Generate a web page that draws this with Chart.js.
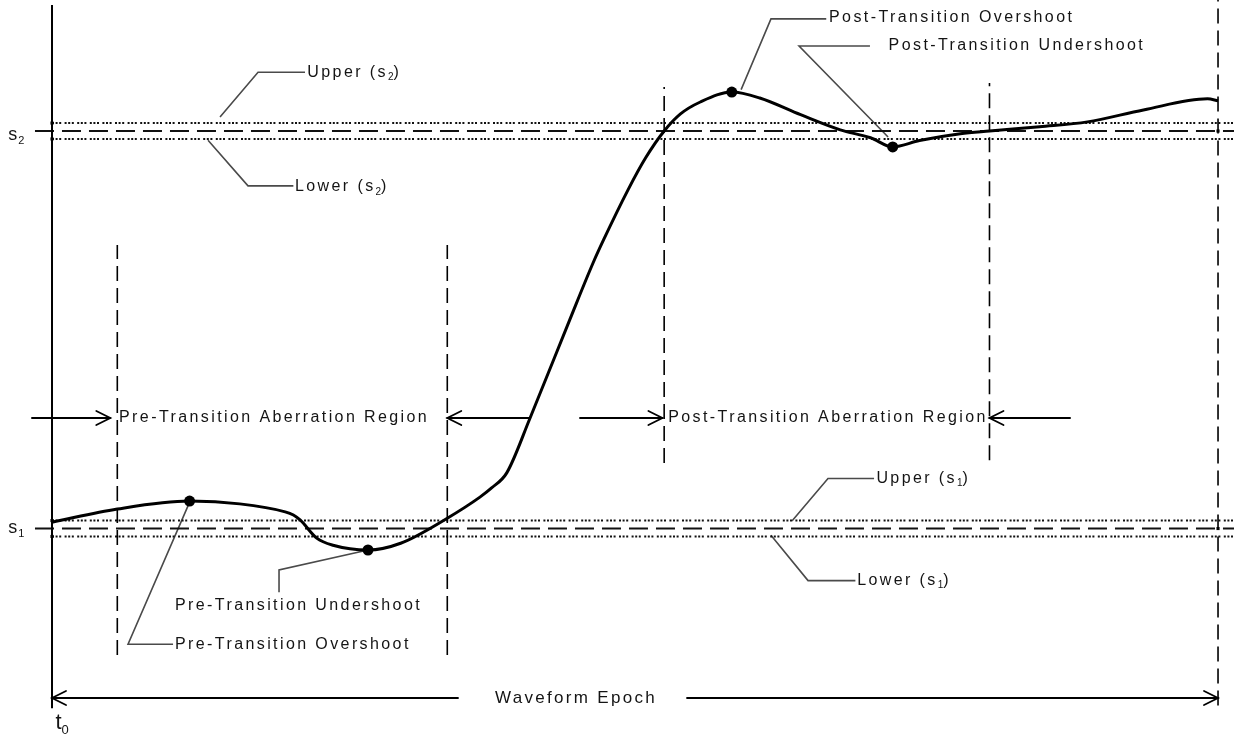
<!DOCTYPE html>
<html>
<head>
<meta charset="utf-8">
<script src="https://cdn.jsdelivr.net/npm/chart.js@4.4.1/dist/chart.umd.min.js"></script>
<style>
  html, body { margin: 0; padding: 0; background: #fff; }
  #wrap { width: 1234px; height: 740px; position: relative; }
</style>
</head>
<body>
<div id="wrap"><canvas id="c"></canvas></div>
<script>
// Waveform samples: time in epoch units (t0 = 0, epoch end = 100),
// amplitude normalised so that state s1 = 0 and state s2 = 1.
const waveTime = [0, 5.6, 11.8, 16.1, 20.0, 20.7, 21.3, 22.7, 24.1, 27.1, 29.9, 33.9,
  36.7, 37.7, 39.0, 41.0, 44.4, 46.4, 47.3, 49.4, 50.9, 52.5, 53.9, 55.6, 58.3,
  60.7, 64.2, 67.6, 70.2, 72.1, 74.4, 77.9, 80.4, 84.7, 88.8, 93.6, 99.1, 100];
const waveLevel = [0.016, 0.049, 0.069, 0.062, 0.042, 0.034, 0.021, -0.024, -0.042, -0.054, -0.037, 0.026,
  0.079, 0.102, 0.140, 0.278, 0.525, 0.668, 0.726, 0.852, 0.932, 1.000, 1.043, 1.073, 1.098,
  1.083, 1.041, 1.003, 0.983, 0.960, 0.976, 0.993, 1.000, 1.011, 1.023, 1.053, 1.081, 1.076];

// Marked extrema of the waveform
const extremaTime = [11.8, 27.1, 58.3, 72.1];
const extremaLevel = [0.069, -0.054, 1.098, 0.960];

// State levels and their tolerance band
const stateLevels = [0, 1];
const stateNames = ['s_1', 's_2'];
const tolerance = 0.02;

// Aberration regions and waveform epoch (start, end)
const preRegion = [5.6, 33.9];
const postRegion = [52.5, 80.4];
const epoch = [0, 100];

// ---- view window and annotation placement (data units) ----
const VIEW = { xMin: -4.46, xMax: 101.37, yMin: -0.532, yMax: 1.3296 };
const stateTickStart = -1.46;
const regionArrowLevel = 0.278;
const epochArrowLevel = -0.4264;

const verticals = [
  { t: epoch[0], from: -0.452, to: 1.317, dash: [], width: 2 },
  { t: preRegion[0], from: -0.318, to: 0.713, dash: [15, 7], width: 1.6 },
  { t: preRegion[1], from: -0.318, to: 0.713, dash: [15, 7], width: 1.6 },
  { t: postRegion[0], from: 0.165, to: 1.111, dash: [15, 7], width: 1.6 },
  { t: postRegion[1], from: 0.172, to: 1.121, dash: [15, 7], width: 1.6 },
  { t: epoch[1], from: -0.445, to: 1.33, dash: [15, 7], width: 1.6 }
];

const arrows = [
  { from: -1.72, to: preRegion[0] - 0.6, v: regionArrowLevel },
  { from: 40.99, to: preRegion[1], v: regionArrowLevel },
  { from: 45.28, to: postRegion[0] - 0.15, v: regionArrowLevel },
  { from: 87.31, to: postRegion[1], v: regionArrowLevel },
  { from: 34.82, to: epoch[0], v: epochArrowLevel },
  { from: 54.46, to: epoch[1], v: epochArrowLevel }
];

const leaders = [
  [[14.41, 1.035], [17.67, 1.148], [21.7, 1.148]],
  [[13.38, 0.977], [16.81, 0.862], [20.7, 0.862]],
  [[59.1, 1.104], [61.66, 1.282], [66.4, 1.282]],
  [[71.7, 0.985], [64.07, 1.214], [70.15, 1.214]],
  [[27.1, -0.054], [19.47, -0.104], [19.47, -0.16]],
  [[11.84, 0.069], [6.52, -0.291], [10.38, -0.291]],
  [[63.46, 0.019], [66.55, 0.126], [70.5, 0.126]],
  [[61.66, -0.017], [64.84, -0.131], [68.9, -0.131]]
];

const narrowFamily = '"Liberation Sans Narrow", "Liberation Sans", Arial, sans-serif';
const labels = [
  { text: 'Pre-Transition Aberration Region', t: 5.75, v: regionArrowLevel },
  { text: 'Post-Transition Aberration Region', t: 52.85, v: regionArrowLevel },
  { text: 'Upper (s_2)', t: 21.9, v: 1.148 },
  { text: 'Lower (s_2)', t: 20.84, v: 0.860 },
  { text: 'Post-Transition Overshoot', t: 66.64, v: 1.285 },
  { text: 'Post-Transition Undershoot', t: 71.75, v: 1.214 },
  { text: 'Pre-Transition Undershoot', t: 10.55, v: -0.195 },
  { text: 'Pre-Transition Overshoot', t: 10.55, v: -0.291 },
  { text: 'Upper (s_1)', t: 70.7, v: 0.126 },
  { text: 'Lower (s_1)', t: 69.05, v: -0.131 },
  { text: stateNames[1], t: -3.75, v: 0.99, size: 18, spacing: 1 },
  { text: stateNames[0], t: -3.75, v: 0.0, size: 18, spacing: 1 },
  { text: 't_0', t: 0.3, v: -0.49, size: 22, spacing: 0, family: narrowFamily },
  { text: 'Waveform Epoch', t: 44.94, v: epochArrowLevel, align: 'center', size: 17, spacing: 2.3, family: narrowFamily }
];

// ---- datasets ----
const seg = (x0, y0, x1, y1) => [{ x: x0, y: y0 }, { x: x1, y: y1 }];
const datasets = [];

datasets.push({
  label: 'extrema',
  data: extremaTime.map((t, i) => ({ x: t, y: extremaLevel[i] })),
  showLine: false, pointRadius: 5.5, pointBackgroundColor: '#000', pointBorderWidth: 0, order: 0
});
datasets.push({
  label: 'waveform',
  data: waveTime.map((t, i) => ({ x: t, y: waveLevel[i] })),
  showLine: true, borderColor: '#000', borderWidth: 3, pointRadius: 0,
  cubicInterpolationMode: 'monotone', order: 1
});
stateLevels.forEach(s => {
  datasets.push({ data: seg(stateTickStart, s, VIEW.xMax, s), showLine: true, borderColor: '#111',
    borderWidth: 2, borderDash: [19, 8], pointRadius: 0, order: 4 });
  [s + tolerance, s - tolerance].forEach(b => {
    datasets.push({ data: seg(epoch[0], b, VIEW.xMax, b), showLine: true, borderColor: '#111',
      borderWidth: 2, borderDash: [2, 1.6, 2, 1.6, 2, 3.4], pointRadius: 0, order: 4 });
  });
});
verticals.forEach(vl => {
  datasets.push({ data: seg(vl.t, vl.from, vl.t, vl.to), showLine: true, borderColor: '#000',
    borderWidth: vl.width, borderDash: vl.dash, pointRadius: 0, order: 3 });
});
// small junction marks where the axis and epoch end meet the state bands
datasets.push({
  data: [
    { x: epoch[0], y: 1 + tolerance }, { x: epoch[0], y: 1 - tolerance },
    { x: epoch[0], y: tolerance }, { x: epoch[0], y: -tolerance },
    { x: epoch[1], y: 1 }, { x: epoch[1], y: 0 }
  ],
  showLine: false, pointStyle: 'rect', pointRadius: 2.2, pointBackgroundColor: '#000', pointBorderWidth: 0, order: 2
});
leaders.forEach(path => {
  datasets.push({ data: path.map(p => ({ x: p[0], y: p[1] })), showLine: true, borderColor: '#4a4a4a',
    borderWidth: 1.6, pointRadius: 0, tension: 0, order: 5 });
});

// ---- annotation drawing (arrows and text) ----
function drawRich(ctx, str, x, y, opt) {
  const size = opt.size || 16;
  const family = opt.family || '"Liberation Sans", Arial, sans-serif';
  const spacing = opt.spacing !== undefined ? opt.spacing : 2.4;
  const parts = [];
  for (let i = 0; i < str.length; i++) {
    if (str[i] === '_') { parts.push({ t: str[i + 1], sub: true }); i++; }
    else if (parts.length && !parts[parts.length - 1].sub) parts[parts.length - 1].t += str[i];
    else parts.push({ t: str[i], sub: false });
  }
  ctx.save();
  ctx.textBaseline = 'middle';
  ctx.fillStyle = '#141414';
  const fontFor = p => (p.sub ? Math.round(size * 0.6) : size) + 'px ' + family;
  let total = 0;
  parts.forEach(p => { ctx.font = fontFor(p); ctx.letterSpacing = (p.sub ? 0 : spacing) + 'px'; p.w = ctx.measureText(p.t).width; total += p.w; });
  let cx = opt.align === 'center' ? x - total / 2 : x;
  parts.forEach(p => {
    ctx.font = fontFor(p);
    ctx.letterSpacing = (p.sub ? 0 : spacing) + 'px';
    ctx.fillText(p.t, cx, p.sub ? y + size * 0.32 : y);
    cx += p.w;
  });
  ctx.restore();
}

const annotationPlugin = {
  id: 'annotations',
  afterDatasetsDraw(chart) {
    const { ctx, scales: { x, y } } = chart;
    ctx.save();
    ctx.strokeStyle = '#000';
    ctx.lineWidth = 1.8;
    ctx.lineCap = 'round';
    arrows.forEach(a => {
      const x0 = x.getPixelForValue(a.from), x1 = x.getPixelForValue(a.to), py = y.getPixelForValue(a.v);
      const dir = x1 > x0 ? 1 : -1;
      ctx.beginPath(); ctx.moveTo(x0, py); ctx.lineTo(x1, py); ctx.stroke();
      ctx.beginPath();
      ctx.moveTo(x1 - dir * 14, py - 7); ctx.lineTo(x1, py); ctx.lineTo(x1 - dir * 14, py + 7);
      ctx.stroke();
    });
    ctx.restore();
    labels.forEach(l => drawRich(ctx, l.text, x.getPixelForValue(l.t), y.getPixelForValue(l.v), l));
  }
};

new Chart(document.getElementById('c'), {
  type: 'scatter',
  data: { datasets },
  options: {
    responsive: true,
    maintainAspectRatio: false,
    animation: false,
    events: [],
    layout: { padding: 0, autoPadding: false },
    plugins: { legend: { display: false }, tooltip: { enabled: false } },
    scales: {
      x: { type: 'linear', min: VIEW.xMin, max: VIEW.xMax, display: false },
      y: { type: 'linear', min: VIEW.yMin, max: VIEW.yMax, display: false }
    }
  },
  plugins: [annotationPlugin]
});
</script>
</body>
</html>
